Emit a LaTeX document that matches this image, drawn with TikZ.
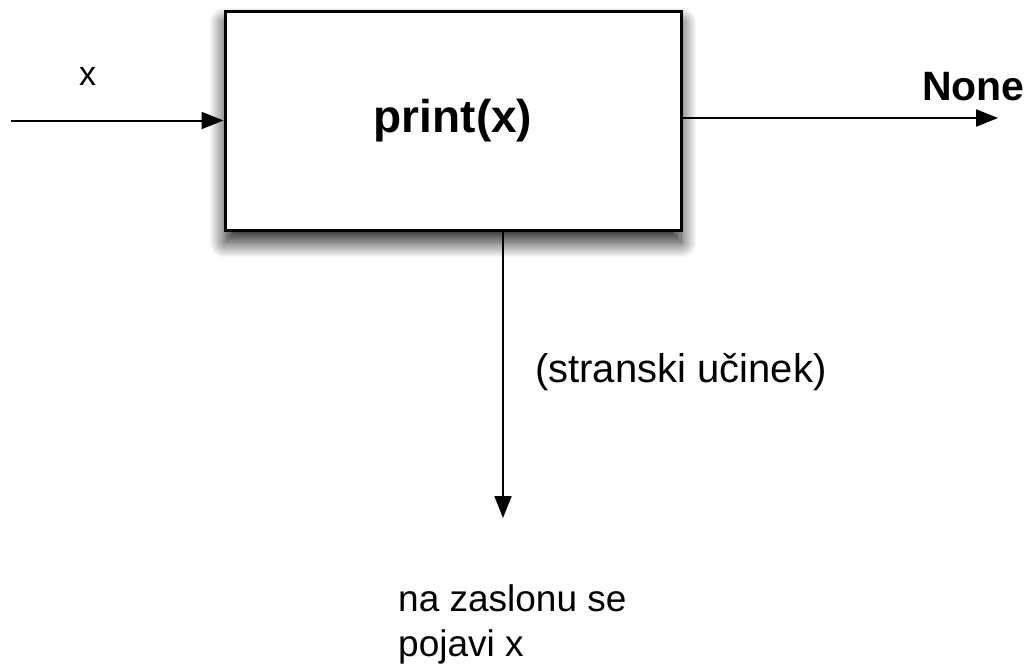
\documentclass[tikz,border=0pt]{standalone}
\usepackage{fontspec}
\setmainfont{Liberation Sans}
\usetikzlibrary{arrows.meta,shadows.blur}

\begin{document}
\begin{tikzpicture}[x=1pt,y=-1pt]
\tikzstyle{box_style} = [draw=black, line width=3, fill=white, minimum width=456, minimum height=219,
  blur shadow={shadow xshift=0pt, shadow yshift=-12pt, shadow blur radius=16pt, shadow blur steps=25, shadow opacity=90},
  font=\bfseries\fontsize{46}{54}\selectfont]
\tikzstyle{edge_style} = [black, line width=2, -{Triangle[length=22pt,width=17pt]}]
\tikzstyle{label_style} = [inner sep=0, anchor=base west]
    \useasboundingbox (0,0) rectangle (1031,670);

    \node[box_style] (f) at (453,120.5) {print(x)};

    \coordinate (xin) at (11,120.5);
    \coordinate (yout) at (998,118);
    \coordinate (eff) at (503,518);

    \draw[edge_style] (xin) -- (f.west);
    \draw[edge_style] (f.east |- yout) -- (yout);
    \draw[edge_style] (f.south -| eff) -- (eff);

    \node[label_style, font=\fontsize{34}{40}\selectfont] (xl) at (79,85) {x};
    \node[label_style, font=\bfseries\fontsize{41}{49}\selectfont] (nl) at (922,100) {None};
    \node[label_style, font=\fontsize{40}{48}\selectfont] (sl) at (535,382) {(stranski učinek)};
    \node[inner sep=0, anchor=north west, align=left, font=\fontsize{37}{45}\selectfont] (zl) at (398,584)
      {na zaslonu se\\pojavi x};
\end{tikzpicture}
\end{document}
